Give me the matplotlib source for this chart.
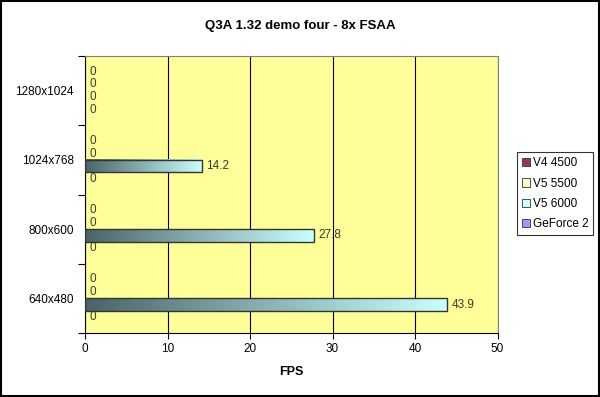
import numpy as np
import matplotlib
matplotlib.use("Agg")
import matplotlib.pyplot as plt
from matplotlib.colors import LinearSegmentedColormap
from matplotlib.patches import Rectangle

plt.rcParams['font.family'] = ['Liberation Sans', 'DejaVu Sans']

# datos (de abajo hacia arriba)
resoluciones = ["640x480", "800x600", "1024x768", "1280x1024"]
series = ["V4 4500", "V5 5500", "V5 6000", "GeForce 2"]
v4_4500 = [0, 0, 0, 0]
v5_5500 = [0, 0, 0, 0]
v5_6000 = [43.9, 27.8, 14.2, 0]
geforce2 = [0, 0, 0, 0]
valores = [v4_4500, v5_5500, v5_6000, geforce2]
colores_leyenda = ["#993366", "#FFFFCC", "#CCFFFF", "#9999FF"]

fig = plt.figure(figsize=(6, 3.97), dpi=100)
ax = fig.add_axes([0.1417, 0.1612, 0.6875, 0.6977])
ax.set_facecolor("#FFFF99")

degradado = LinearSegmentedColormap.from_list("deg", ["#4A6468", "#CCFFFF"])
grad = np.linspace(0, 1, 256).reshape(1, -1)

n = len(series)
alto = 1 / (n + 1.5)
for s, (nombre, vals) in enumerate(zip(series, valores)):
    # primera serie arriba dentro de cada grupo
    desplaz = ((n - 1) / 2 - s) * alto
    for i, v in enumerate(vals):
        yc = i + 0.5 + desplaz
        if v > 0:
            ax.imshow(grad, cmap=degradado, aspect="auto", interpolation="bilinear",
                      extent=[0, v, yc - alto / 2, yc + alto / 2], zorder=3)
            ax.barh(yc, v, height=alto, fill=False, edgecolor="#333333",
                    linewidth=1.0, zorder=4)
        ax.annotate(f"{v:g}", (v, yc), xytext=(3, 0), textcoords="offset points",
                    va="center", ha="left", fontsize=8.5, color="#3a3a2a", zorder=5)

ax.set_xlim(0, 50)
ax.set_ylim(0, len(resoluciones))
ax.set_xticks(range(0, 51, 10))
ax.tick_params(axis="x", direction="out", length=4, labelsize=8.5, pad=3)
ax.set_yticks(range(0, len(resoluciones) + 1))
ax.set_yticklabels([])
ax.set_yticks(np.arange(len(resoluciones)) + 0.5, minor=True)
ax.set_yticklabels(resoluciones, minor=True)
ax.tick_params(axis="y", which="major", direction="out", length=5)
ax.tick_params(axis="y", which="minor", length=0, labelsize=8.5, pad=8)
ax.grid(axis="x", color="black", linewidth=0.8, zorder=1)
ax.set_axisbelow(True)

ax.spines["top"].set_color("#808080")
ax.spines["right"].set_color("#808080")
ax.spines["left"].set_color("black")
ax.spines["bottom"].set_color("black")

ax.set_xlabel("FPS", fontsize=9, fontweight="bold", labelpad=8)
fig.text(0.5, 0.935, "Q3A 1.32 demo four - 8x FSAA", ha="center", va="center",
         fontsize=9.5, fontweight="bold")

manejadores = [Rectangle((0, 0), 1, 1, facecolor=c, edgecolor="#333333", linewidth=0.6)
               for c in colores_leyenda]
leg = fig.legend(manejadores, series, loc="center left", bbox_to_anchor=(0.861, 0.512),
                 fontsize=8.5, frameon=True, fancybox=False, handlelength=0.7,
                 handleheight=0.7, handletextpad=0.2, labelspacing=0.7,
                 borderpad=0.45, borderaxespad=0)
leg.get_frame().set_edgecolor("black")
leg.get_frame().set_linewidth(0.8)

fig.patches.append(Rectangle((0.001, 0.002), 0.997, 0.996, transform=fig.transFigure,
                             fill=False, edgecolor="black", linewidth=1.5))

plt.savefig("out.png", dpi=100)
plt.close()
